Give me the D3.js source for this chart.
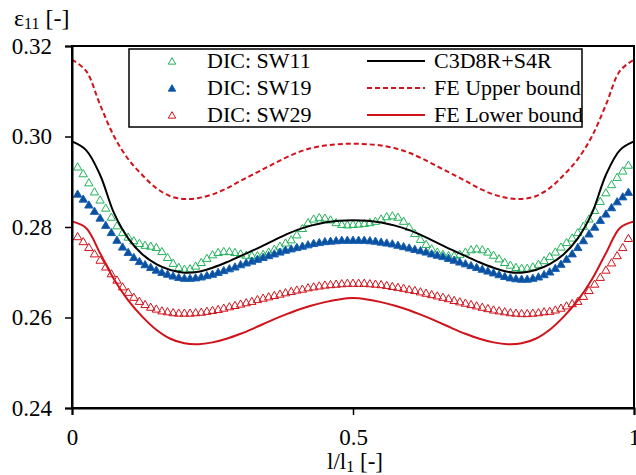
<!DOCTYPE html>
<html>
<head>
<meta charset="utf-8">
<script src="https://cdn.jsdelivr.net/npm/d3@7"></script>
<style>
  html, body { margin: 0; padding: 0; background: #fff; }
  svg { display: block; }
  svg text { font-family: "Liberation Serif", "Times New Roman", serif; fill: #000; }
</style>
</head>
<body>
<svg id="chart" width="636" height="475"></svg>
<script>
// ---------- data ----------
const xTickValues = [0, 0.5, 1];
const xTickLabels = ["0", "0.5", "1"];
const yTickValues = [0.24, 0.26, 0.28, 0.30, 0.32];
const yTickLabels = ["0.24", "0.26", "0.28", "0.30", "0.32"];

// sample positions l/l1 (DIC points every 0.01, FE curves every 0.025)
const dicX = d3.range(1, 100).map(i => i / 100);
const feX = d3.range(0, 41).map(i => i / 40);

const sw11 = [0.2933,0.2918,0.2898,0.2878,0.2860,0.2842,0.2822,0.2803,0.2788,0.2778,
  0.2770,0.2764,0.2760,0.2758,0.2755,0.2746,0.2733,0.2720,0.2711,0.2707,
  0.2708,0.2714,0.2722,0.2731,0.2739,0.2744,0.2746,0.2746,0.2744,0.2741,
  0.2738,0.2737,0.2737,0.2740,0.2745,0.2751,0.2758,0.2765,0.2772,0.2783,
  0.2797,0.2810,0.2818,0.2821,0.2820,0.2816,0.2810,0.2806,0.2805,0.2806,
  0.2807,0.2808,0.2810,0.2813,0.2818,0.2823,0.2825,0.2822,0.2813,0.2800,
  0.2786,0.2773,0.2762,0.2752,0.2745,0.2740,0.2737,0.2737,0.2740,0.2745,
  0.2750,0.2752,0.2750,0.2745,0.2738,0.2730,0.2722,0.2716,0.2711,0.2709,
  0.2709,0.2712,0.2718,0.2726,0.2735,0.2745,0.2756,0.2766,0.2776,0.2788,
  0.2802,0.2818,0.2837,0.2857,0.2876,0.2894,0.2910,0.2924,0.2937];

const sw19 = [0.2873,0.2862,0.2849,0.2835,0.2820,0.2804,0.2788,0.2771,0.2756,0.2744,
  0.2733,0.2724,0.2717,0.2711,0.2705,0.2700,0.2696,0.2692,0.2689,0.2687,
  0.2687,0.2688,0.2690,0.2693,0.2696,0.2700,0.2704,0.2708,0.2712,0.2717,
  0.2721,0.2725,0.2729,0.2733,0.2737,0.2741,0.2745,0.2749,0.2752,0.2755,
  0.2758,0.2761,0.2764,0.2766,0.2768,0.2769,0.2770,0.2771,0.2771,0.2771,
  0.2771,0.2771,0.2770,0.2769,0.2767,0.2765,0.2763,0.2760,0.2757,0.2754,
  0.2751,0.2748,0.2745,0.2741,0.2738,0.2735,0.2731,0.2727,0.2723,0.2719,
  0.2715,0.2711,0.2707,0.2703,0.2699,0.2695,0.2691,0.2688,0.2686,0.2685,
  0.2685,0.2687,0.2690,0.2695,0.2701,0.2709,0.2718,0.2729,0.2741,0.2755,
  0.2770,0.2785,0.2800,0.2815,0.2829,0.2843,0.2856,0.2867,0.2877];

const sw29 = [0.2779,0.2768,0.2755,0.2741,0.2727,0.2712,0.2697,0.2683,0.2668,0.2656,
  0.2645,0.2636,0.2629,0.2623,0.2619,0.2615,0.2613,0.2611,0.2610,0.2610,
  0.2610,0.2611,0.2612,0.2614,0.2616,0.2618,0.2621,0.2624,0.2627,0.2630,
  0.2633,0.2636,0.2640,0.2643,0.2646,0.2649,0.2652,0.2655,0.2658,0.2661,
  0.2663,0.2666,0.2668,0.2670,0.2672,0.2673,0.2674,0.2675,0.2676,0.2676,
  0.2676,0.2676,0.2675,0.2674,0.2673,0.2671,0.2669,0.2667,0.2665,0.2662,
  0.2660,0.2657,0.2654,0.2651,0.2648,0.2645,0.2642,0.2638,0.2635,0.2632,
  0.2629,0.2626,0.2623,0.2620,0.2617,0.2615,0.2613,0.2611,0.2610,0.2609,
  0.2609,0.2610,0.2611,0.2613,0.2614,0.2617,0.2621,0.2626,0.2631,0.2636,
  0.2647,0.2660,0.2674,0.2689,0.2705,0.2721,0.2737,0.2755,0.2775];

const c3d8r = [0.2989,0.2970,0.2915,0.2830,0.2775,0.2740,0.2718,0.2705,0.2699,0.2701,
  0.2710,0.2722,0.2736,0.2750,0.2765,0.2780,0.2793,0.2803,0.2810,0.2814,
  0.2815,
  0.2814,0.2810,0.2803,0.2793,0.2780,0.2765,0.2750,0.2736,0.2722,0.2710,
  0.2701,0.2699,0.2705,0.2718,0.2740,0.2775,0.2830,0.2915,0.2970,0.2989];

const feUpper = [0.3170,0.3145,0.3070,0.3000,0.2950,0.2915,0.2886,0.2868,0.2862,0.2864,
  0.2872,0.2885,0.2902,0.2918,0.2934,0.2950,0.2964,0.2974,0.2980,0.2983,
  0.2984,
  0.2983,0.2980,0.2974,0.2964,0.2950,0.2934,0.2918,0.2902,0.2885,0.2872,
  0.2864,0.2862,0.2868,0.2886,0.2915,0.2950,0.3000,0.3070,0.3145,0.3170];

const feLower = [0.2812,0.2798,0.2742,0.2684,0.2638,0.2602,0.2573,0.2553,0.2543,0.2541,
  0.2545,0.2553,0.2564,0.2577,0.2591,0.2604,0.2616,0.2626,0.2634,0.2640,
  0.2643,
  0.2640,0.2634,0.2626,0.2616,0.2604,0.2591,0.2577,0.2564,0.2553,0.2545,
  0.2541,0.2543,0.2553,0.2573,0.2602,0.2638,0.2684,0.2742,0.2798,0.2812];

// ---------- drawing ----------
const svg = d3.select("#chart");
const pLeft = 72, pRight = 634, pTop = 46, pBottom = 408;
const x = d3.scaleLinear().domain([0, 1]).range([pLeft, pRight]);
const y = d3.scaleLinear().domain([0.24, 0.32]).range([pBottom, pTop]);

const green = "#22b35a", blue = "#0b4f9f", blueEdge = "#1862b4", red = "#d0121b";
const FONT = "Liberation Serif, Times New Roman, serif";

svg.append("defs").append("clipPath").attr("id", "plotclip")
  .append("rect").attr("x", pLeft).attr("y", pTop).attr("width", pRight - pLeft).attr("height", pBottom - pTop);

const plot = svg.append("g").attr("clip-path", "url(#plotclip)");

const line = d3.line().x(d => x(d[0])).y(d => y(d[1])).curve(d3.curveCatmullRom.alpha(0.5));

plot.append("path").datum(feX.map((t, i) => [t, feUpper[i]]))
  .attr("d", line).attr("fill", "none").attr("stroke", red).attr("stroke-width", 2)
  .attr("stroke-dasharray", "5,3");

const tri = d3.symbol().type(d3.symbolTriangle).size(30);

function markers(vals, stroke, fill) {
  plot.append("g").selectAll("path").data(vals.map((v, i) => [dicX[i], v]))
    .join("path")
    .attr("d", tri)
    .attr("transform", d => `translate(${x(d[0])},${y(d[1]) + 0.8})`)
    .attr("fill", fill).attr("stroke", stroke).attr("stroke-width", 1);
}
markers(sw29, red, "none");
markers(sw11, green, "none");

plot.append("path").datum(feX.map((t, i) => [t, c3d8r[i]]))
  .attr("d", line).attr("fill", "none").attr("stroke", "#000").attr("stroke-width", 2);

markers(sw19, blueEdge, blue);

plot.append("path").datum(feX.map((t, i) => [t, feLower[i]]))
  .attr("d", line).attr("fill", "none").attr("stroke", red).attr("stroke-width", 2);

// frame
svg.append("rect").attr("x", pLeft).attr("y", pTop).attr("width", pRight - pLeft).attr("height", pBottom - pTop)
  .attr("fill", "none").attr("stroke", "#000").attr("stroke-width", 2);

// axes
const yAxis = svg.append("g").attr("transform", `translate(${pLeft},0)`)
  .call(d3.axisLeft(y).tickValues(yTickValues).tickFormat((d, i) => yTickLabels[i]).tickSize(7).tickPadding(13));
const xAxis = svg.append("g").attr("transform", `translate(0,${pBottom})`)
  .call(d3.axisBottom(x).tickValues(xTickValues).tickFormat((d, i) => xTickLabels[i]).tickSize(7));
[yAxis, xAxis].forEach(g => {
  g.attr("font-family", FONT);
  g.select(".domain").attr("stroke", "#000").attr("stroke-width", 2);
  g.selectAll(".tick line").attr("stroke", "#000").attr("stroke-width", 1.5);
  g.selectAll("text").attr("font-family", FONT).attr("font-size", 23).attr("fill", "#000");
});
xAxis.selectAll("text").attr("y", 37).attr("dy", 0);

// axis titles
const yt = svg.append("text").attr("x", 14).attr("y", 26).attr("font-size", 24).attr("font-family", FONT);
yt.append("tspan").text("ε");
yt.append("tspan").attr("font-size", 16).attr("dy", 3).text("11");
yt.append("tspan").attr("dy", -3).text(" [-]");

const xt = svg.append("text").attr("x", x(0.5) + 2).attr("y", 469).attr("font-size", 23)
  .attr("text-anchor", "middle").attr("font-family", FONT);
xt.append("tspan").text("l/l");
xt.append("tspan").attr("font-size", 16).attr("dy", 3).text("1");
xt.append("tspan").attr("dy", -3).text(" [-]");

// legend
const lg = svg.append("g");
lg.append("rect").attr("x", 129).attr("y", 49).attr("width", 453).attr("height", 78)
  .attr("fill", "#fff").attr("stroke", "#000").attr("stroke-width", 1.5);
const leftItems = [
  { label: "DIC: SW11", stroke: green, fill: "none" },
  { label: "DIC: SW19", stroke: blueEdge, fill: blue },
  { label: "DIC: SW29", stroke: red, fill: "none" }
];
const rightItems = [
  { label: "C3D8R+S4R", color: "#000", dash: null },
  { label: "FE Upper bound", color: red, dash: "5,3" },
  { label: "FE Lower bound", color: red, dash: null }
];
const rowBase = [68, 95, 122];
leftItems.forEach((it, i) => {
  lg.append("path").attr("d", d3.symbol().type(d3.symbolTriangle).size(24))
    .attr("transform", `translate(172,${rowBase[i] - 6})`)
    .attr("fill", it.fill).attr("stroke", it.stroke).attr("stroke-width", 1);
  lg.append("text").attr("x", 207).attr("y", rowBase[i]).attr("font-size", 22)
    .attr("font-family", FONT).text(it.label);
});
rightItems.forEach((it, i) => {
  lg.append("line").attr("x1", 367).attr("x2", 425).attr("y1", rowBase[i] - 7).attr("y2", rowBase[i] - 7)
    .attr("stroke", it.color).attr("stroke-width", 2).attr("stroke-dasharray", it.dash);
  lg.append("text").attr("x", 434).attr("y", rowBase[i]).attr("font-size", 22)
    .attr("font-family", FONT).text(it.label);
});
</script>
</body>
</html>
